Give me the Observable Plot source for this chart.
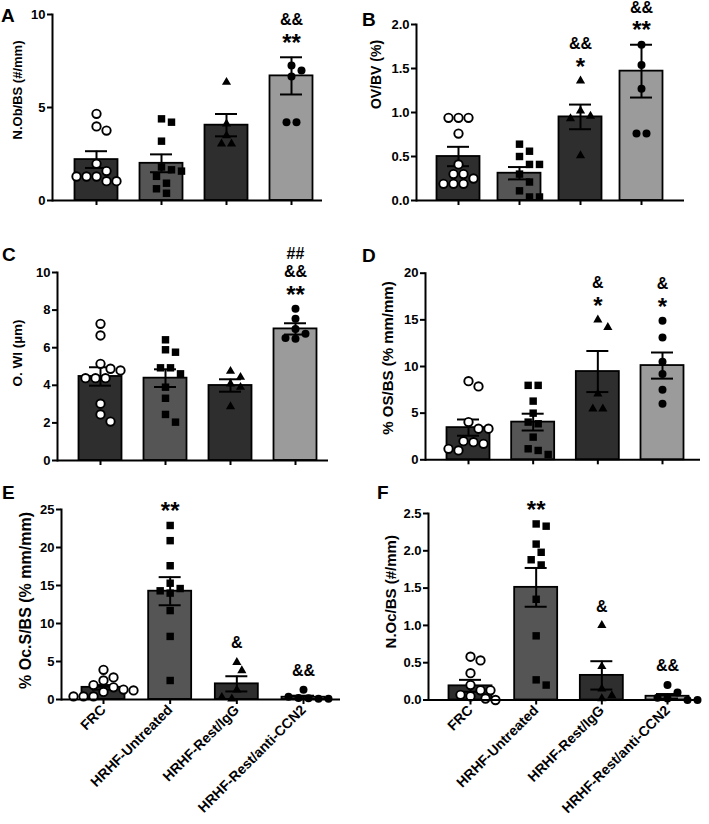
<!DOCTYPE html>
<html><head><meta charset="utf-8">
<script src="https://cdn.jsdelivr.net/npm/d3@7"></script>
<script src="https://cdn.jsdelivr.net/npm/@observablehq/plot@0.6"></script>
<style>
body{margin:0;background:#fff;}
#wrap{position:relative;width:709px;height:824px;overflow:hidden;font-family:"Liberation Sans",Arial,sans-serif;}
#wrap svg{position:absolute;left:0;top:0;overflow:visible;}
.letter{position:absolute;font-weight:bold;font-size:19px;line-height:1;}
</style></head><body><div id="wrap"></div>
<script>
const groups = ["FRC", "HRHF-Untreated", "HRHF-Rest/IgG", "HRHF-Rest/anti-CCN2"];
const barFill = ["#2e2e2e", "#555555", "#2e2e2e", "#9b9b9b"];

// A: N.Ob/BS (#/mm)
const aLabel = "N.Ob/BS (#/mm)";
const aTicks = [0, 5, 10];
const aMean = [2.2, 2.0, 4.05, 6.7];
const aSem = [0.45, 0.48, 0.6, 1.0];
const aFRC = [4.66, 3.98, 3.76, 1.97, 1.58, 1.29, 1.29, 1.29, 1.04, 1.04];
const aUnt = [4.39, 4.21, 3.19, 1.8, 1.65, 1.58, 1.3, 0.93, 0.63, 0.39];
const aIgG = [6.36, 4.12, 3.49, 3.05, 3.05];
const aCCN = [7.26, 6.99, 6.67, 4.21, 4.21];
const aSig = ["", "", "", "&&\n**"];

// B: OV/BV (%)
const bLabel = "OV/BV (%)";
const bTicks = [0, 0.5, 1, 1.5, 2];
const bMean = [0.5, 0.31, 0.95, 1.47];
const bSem = [0.11, 0.07, 0.14, 0.3];
const bFRC = [0.94, 0.94, 0.94, 0.76, 0.41, 0.3, 0.3, 0.25, 0.19, 0.19, 0.19];
const bUnt = [0.64, 0.56, 0.5, 0.41, 0.41, 0.3, 0.21, 0.11, 0.04, 0.04];
const bIgG = [1.36, 1.02, 0.96, 0.93, 0.51];
const bCCN = [1.77, 1.54, 1.27, 0.76, 0.76];
const bSig = ["", "", "&&\n*", "&&\n**"];

// C: O. Wl (µm)
const cLabel = "O. Wl (\u00b5m)";
const cTicks = [0, 2, 4, 6, 8, 10];
const cMean = [4.47, 4.38, 3.99, 7.0];
const cSem = [0.49, 0.47, 0.33, 0.3];
const cFRC = [7.27, 6.65, 5.14, 4.88, 4.79, 4.38, 4.38, 4.38, 3.02, 2.45, 2.07];
const cUnt = [6.42, 5.89, 5.76, 4.93, 4.93, 4.61, 3.9, 3.31, 2.45, 2.04];
const cIgG = [4.75, 4.43, 4.08, 3.9, 2.87];
const cCCN = [8.07, 7.54, 7.0, 6.74, 6.52, 6.47];
const cSig = ["", "", "", "##\n&&\n**"];

// D: % OS/BS (% mm/mm)
const dLabel = "% OS/BS (% mm/mm)";
const dTicks = [0, 5, 10, 15, 20];
const dMean = [3.45, 4.04, 9.46, 10.1];
const dSem = [0.87, 0.9, 2.2, 1.4];
const dFRC = [8.43, 7.86, 4.04, 3.33, 3.33, 2.0, 1.89, 1.71, 1.18, 1.0];
const dUnt = [7.98, 7.98, 6.29, 5.0, 4.04, 3.86, 2.43, 1.18, 1.0, 0.57];
const dIgG = [15.0, 14.2, 7.07, 5.46, 5.46];
const dCCN = [14.9, 13.1, 10.5, 9.2, 7.5, 6.0];
const dSig = ["", "", "&\n*", "&\n*"];

// E: % Oc.S/BS (% mm/mm)
const eLabel = "% Oc.S/BS (% mm/mm)";
const eTicks = [0, 5, 10, 15, 20, 25];
const eMean = [1.6, 14.25, 2.06, 0.3];
const eSem = [0.3, 1.85, 1.0, 0.2];
const eFRC = [3.9, 2.9, 2.5, 1.9, 1.6, 1.3, 1.2, 1.0, 0.4, 0.4, 0.4];
const eUnt = [22.9, 20.9, 17.6, 15.3, 14.6, 14.3, 14.0, 11.7, 8.3, 2.5];
const eIgG = [4.9, 3.8, 1.27, 0.3, 0.1];
const eCCN = [1.27, 0.35, 0.2, 0.15, 0.1, 0.1];
const eSig = ["", "**", "&", "&&"];

// F: N.Oc/BS (#/mm)
const fLabel = "N.Oc/BS (#/mm)";
const fTicks = [0, 0.5, 1, 1.5, 2, 2.5];
const fMean = [0.19, 1.51, 0.33, 0.05];
const fSem = [0.08, 0.26, 0.19, 0.03];
const fFRC = [0.58, 0.53, 0.36, 0.2, 0.13, 0.13, 0.07, 0.05, 0.02, 0.0];
const fUnt = [2.36, 2.33, 2.09, 1.98, 1.88, 1.81, 1.35, 0.86, 0.27, 0.2];
const fIgG = [1.0, 0.45, 0.15, 0.06, 0.02];
const fCCN = [0.2, 0.1, 0.03, 0.02, 0.0, 0.0];
const fSig = ["", "**", "&", "&&"];

const panels = [
  {id: "A", label: aLabel, ticks: aTicks, fmt: d3.format("d"), mean: aMean, sem: aSem, points: [aFRC, aUnt, aIgG, aCCN], sig: aSig,
   lay: {L: 52, R: 322, T: 14, B: 200, c0: 96, c3: 291, ldx: -35, ldy: -17.5, lfs: 13, xlab: false, lx: 1, ly: 6}},
  {id: "B", label: bLabel, ticks: bTicks, fmt: d3.format(".1f"), mean: bMean, sem: bSem, points: [bFRC, bUnt, bIgG, bCCN], sig: bSig,
   lay: {L: 416, R: 684, T: 24, B: 200, c0: 458, c3: 641, ldx: -40, ldy: -38, lfs: 14, xlab: false, lx: 362, ly: 10}},
  {id: "C", label: cLabel, ticks: cTicks, fmt: d3.format("d"), mean: cMean, sem: cSem, points: [cFRC, cUnt, cIgG, cCCN], sig: cSig,
   lay: {L: 57, R: 328, T: 272, B: 460, c0: 100, c3: 295, ldx: -39.5, ldy: -13.5, lfs: 13.5, xlab: false, lx: 2, ly: 245}},
  {id: "D", label: dLabel, ticks: dTicks, fmt: d3.format("d"), mean: dMean, sem: dSem, points: [dFRC, dUnt, dIgG, dCCN], sig: dSig,
   lay: {L: 425, R: 700, T: 272.7, B: 459.3, c0: 468, c3: 662, ldx: -37.5, ldy: -8.5, lfs: 15, xlab: false, lx: 362, ly: 246}},
  {id: "E", label: eLabel, ticks: eTicks, fmt: d3.format("d"), mean: eMean, sem: eSem, points: [eFRC, eUnt, eIgG, eCCN], sig: eSig,
   lay: {L: 61, R: 340, T: 509, B: 699, c0: 103, c3: 303, ldx: -36, ldy: -4, lfs: 16, xlab: true, lx: 2, ly: 483}},
  {id: "F", label: fLabel, ticks: fTicks, fmt: d3.format(".1f"), mean: fMean, sem: fSem, points: [fFRC, fUnt, fIgG, fCCN], sig: fSig,
   lay: {L: 428, R: 697, T: 513, B: 699.5, c0: 470, c3: 667, ldx: -37, ldy: -15, lfs: 15, xlab: true, lx: 377, ly: 483}}
];

function dodge(values, ppu, sp) {
  const sorted = [...values].sort((a, b) => b - a);
  const placed = [];
  let i = 0;
  while (i < sorted.length) {
    let j = i;
    while (j + 1 < sorted.length && (sorted[i] - sorted[j + 1]) * ppu < 2) j++;
    const row = sorted.slice(i, j + 1);
    const n = row.length;
    for (let s = 0; s < 80; s++) {
      const c = s === 0 ? 0 : (s % 2 ? 1 : -1) * Math.ceil(s / 2) * sp / 2;
      const cand = row.map((v, k) => ({v, py: v * ppu, ox: (k - (n - 1) / 2) * sp + c}));
      if (cand.every(a => placed.every(b => Math.hypot(a.ox - b.ox, a.py - b.py) >= sp - 0.5))) {
        placed.push(...cand);
        break;
      }
    }
    i = j + 1;
  }
  return placed;
}

const wrap = document.getElementById("wrap");
const W = 709, H = 824;
const FONT = "'Liberation Sans', Arial, sans-serif";

for (const p of panels) {
  const lay = p.lay;
  const ymax = p.ticks[p.ticks.length - 1];
  const step = (lay.c3 - lay.c0) / 3;
  const ppu = (lay.B - lay.T) / ymax;
  const stats = groups.map((g, i) => ({i, mean: p.mean[i], sem: p.sem[i], fill: barFill[i]}));
  const pts = [];
  p.points.forEach((arr, i) => dodge(arr, ppu, 10).forEach(d => pts.push({i, v: d.v, x: i + d.ox / step})));
  const hw = 21.5 / step, cw = 11 / step;
  const ann = [];
  p.sig.forEach((s, i) => {
    if (!s) return;
    const top = Math.max(p.mean[i] + p.sem[i], d3.max(p.points[i]));
    s.split("\n").reverse().forEach((t, k) => {
      const star = t.includes("*");
      const fs = star ? 24 : 16;
      const off = 19 + k * 18 - (star ? 0.21 * fs : 0);
      ann.push({i, t, fs, y: top + off / ppu});
    });
  });
  const svg = Plot.plot({
    width: W, height: H,
    marginLeft: lay.L, marginRight: W - lay.R, marginTop: lay.T, marginBottom: H - lay.B,
    x: {domain: [-0.5, 3.5], range: [lay.c0 - step / 2, lay.c3 + step / 2]},
    y: {domain: [0, ymax]},
    color: {type: "identity"},
    style: {background: "transparent", fontFamily: FONT, fontWeight: "bold", fontSize: "13px", color: "black", overflow: "visible"},
    marks: [
      Plot.rectY(stats, {x1: s => s.i - hw, x2: s => s.i + hw, y1: 0, y2: "mean", fill: "fill", stroke: "black", strokeWidth: 1.8}),
      Plot.ruleX(stats, {x: "i", y1: s => s.mean - s.sem, y2: s => s.mean + s.sem, stroke: "black", strokeWidth: 2}),
      Plot.ruleY(stats, {y: s => s.mean + s.sem, x1: s => s.i - cw, x2: s => s.i + cw, stroke: "black", strokeWidth: 2}),
      Plot.ruleY(stats, {y: s => s.mean - s.sem, x1: s => s.i - cw, x2: s => s.i + cw, stroke: "black", strokeWidth: 2}),
      Plot.dot(pts.filter(d => d.i === 0), {x: "x", y: "v", r: 4.2, fill: "white", stroke: "black", strokeWidth: 1.9}),
      Plot.dot(pts.filter(d => d.i === 1), {x: "x", y: "v", symbol: "square", r: 4.2, fill: "black", stroke: "none"}),
      Plot.dot(pts.filter(d => d.i === 2), {x: "x", y: "v", symbol: "triangle", r: 3.4, fill: "black", stroke: "none"}),
      Plot.dot(pts.filter(d => d.i === 3), {x: "x", y: "v", r: 4, fill: "black", stroke: "none"}),
      Plot.ruleY([0], {stroke: "black", strokeWidth: 2}),
      Plot.frame({anchor: "left", stroke: "black", strokeWidth: 2}),
      Plot.axisY({ticks: p.ticks, tickFormat: p.fmt, tickSize: 5, tickPadding: 2, strokeWidth: 2, label: null,
        fontSize: 13, fontWeight: "bold", fontFamily: FONT, fill: "black"}),
      Plot.axisX({ticks: [0, 1, 2, 3], tickSize: 5, strokeWidth: 2, label: null, tickPadding: 3,
        fontSize: 14, fontWeight: "bold", fontFamily: FONT, fill: "black",
        tickFormat: lay.xlab ? (i => groups[i]) : (() => ""), tickRotate: lay.xlab ? -45 : 0}),
      Plot.text([p.label], {text: t => t, frameAnchor: "left", textAnchor: "middle", rotate: -90, dx: lay.ldx, dy: lay.ldy,
        fontSize: lay.lfs, fontWeight: "bold", fontFamily: FONT, fill: "black"}),
      Plot.text(ann, {x: "i", y: "y", text: "t", fontSize: d => d.fs, fontWeight: "bold", fontFamily: FONT, fill: "black"})
    ]
  });
  wrap.appendChild(svg);
  const letter = document.createElement("div");
  letter.className = "letter";
  letter.textContent = p.id;
  letter.style.left = lay.lx + "px";
  letter.style.top = lay.ly + "px";
  wrap.appendChild(letter);
}
</script>
</body></html>
